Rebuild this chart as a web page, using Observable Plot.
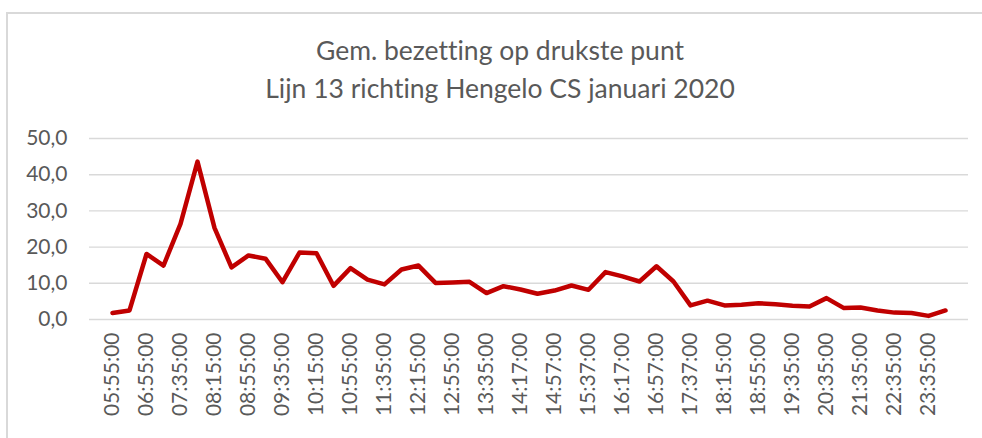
<!DOCTYPE html>
<html>
<head>
<meta charset="utf-8">
<script src="https://cdn.jsdelivr.net/npm/d3@7"></script>
<script src="https://cdn.jsdelivr.net/npm/@observablehq/plot@0.6"></script>
<style>
  html, body { margin: 0; padding: 0; background: #fff; overflow: hidden; }
  #wrap { position: relative; width: 982px; height: 438px; overflow: hidden; font-family: Lato, "Open Sans", sans-serif; }
  #frame { position: absolute; left: 6px; top: 12px; width: 1000px; height: 500px; border-left: 2px solid #d9d9d9; border-top: 2px solid #d9d9d9; }
  #title { position: absolute; left: 18px; width: 964px; top: 31px; text-align: center; color: #595959; font-size: 26.5px; line-height: 38px; font-variant-ligatures: none; }
  #chart { position: absolute; left: 0; top: 115px; }
</style>
</head>
<body>
<div id="wrap">
  <div id="frame"></div>
  <div id="title"><div>Gem. bezetting op drukste punt</div><div>Lijn 13 richting Hengelo CS januari 2020</div></div>
  <div id="chart"></div>
</div>
<script>
const times = [
  "05:55:00","06:25:00","06:55:00","07:15:00","07:35:00","07:55:00","08:15:00","08:35:00","08:55:00","09:15:00",
  "09:35:00","09:55:00","10:15:00","10:35:00","10:55:00","11:15:00","11:35:00","11:55:00","12:15:00","12:35:00",
  "12:55:00","13:15:00","13:35:00","13:57:00","14:17:00","14:37:00","14:57:00","15:17:00","15:37:00","15:57:00",
  "16:17:00","16:37:00","16:57:00","17:17:00","17:37:00","17:55:00","18:15:00","18:35:00","18:55:00","19:15:00",
  "19:35:00","20:05:00","20:35:00","21:05:00","21:35:00","22:05:00","22:35:00","23:05:00","23:35:00","00:05:00"
];
const occupancy = [
  1.8, 2.5, 18.1, 14.9, 26.4, 43.6, 25.3, 14.4, 17.7, 16.8,
  10.3, 18.5, 18.3, 9.3, 14.2, 11.0, 9.7, 13.8, 14.9, 10.1,
  10.2, 10.4, 7.3, 9.2, 8.3, 7.1, 8.0, 9.4, 8.2, 13.1,
  11.9, 10.5, 14.7, 10.5, 3.9, 5.2, 3.9, 4.1, 4.5, 4.2,
  3.8, 3.6, 5.9, 3.2, 3.3, 2.5, 1.9, 1.8, 1.0, 2.5
];
const yTicks = [0, 10, 20, 30, 40, 50];
const shownTimes = times.filter((d, i) => i % 2 === 0);

const data = times.map((t, i) => ({time: t, value: occupancy[i]}));

const chart = Plot.plot({
  width: 982,
  height: 323,
  marginTop: 23,
  marginBottom: 119,
  marginLeft: 89,
  marginRight: 14,
  style: {fontFamily: "Lato, 'Open Sans', sans-serif", fontSize: "21px", color: "#595959", background: "transparent", overflow: "visible"},
  x: {type: "point", domain: times, padding: 0.5},
  y: {domain: [0, 50]},
  marks: [
    Plot.gridY(yTicks, {stroke: "#d9d9d9", strokeOpacity: 1, strokeWidth: 1.4}),
    Plot.axisY(yTicks, {tickSize: 0, tickPadding: 22, tickFormat: d => d.toFixed(1).replace(".", ","), label: null}),
    Plot.axisX(shownTimes, {tickSize: 0, tickPadding: 13, tickRotate: -90, label: null}),
    Plot.line(data, {x: "time", y: "value", stroke: "#c00000", strokeWidth: 4.5, strokeLinejoin: "round", strokeLinecap: "round"})
  ]
});
document.getElementById("chart").appendChild(chart);
</script>
</body>
</html>
